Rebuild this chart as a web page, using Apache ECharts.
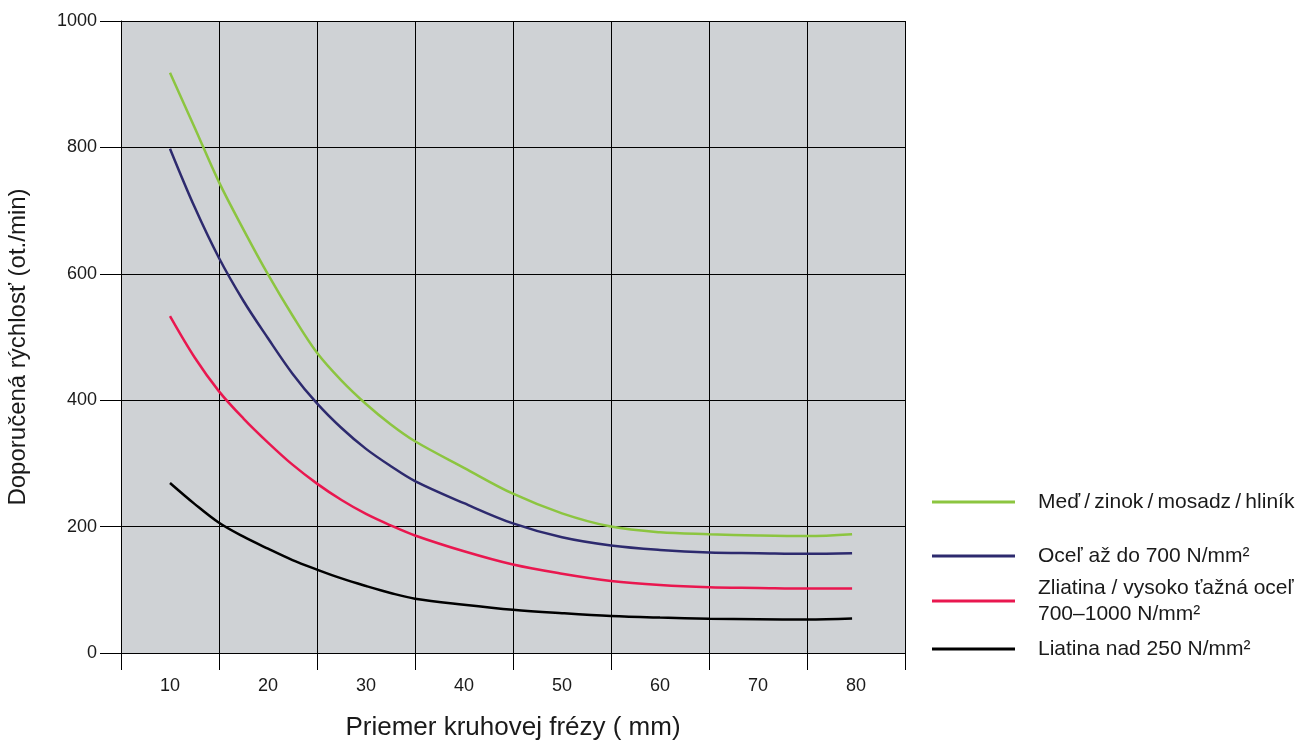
<!DOCTYPE html>
<html>
<head>
<meta charset="utf-8">
<script src="https://cdn.jsdelivr.net/npm/echarts@6/dist/echarts.min.js"></script>
<style>
  html, body { margin: 0; padding: 0; background: #fff; }
  #chart { width: 1312px; height: 740px; }
</style>
</head>
<body>
<div id="chart"></div>
<script>
// column labels on the x axis (mm)
const categories = ['10', '20', '30', '40', '50', '60', '70', '80'];
const diameters = [10, 12.5, 15, 17.5, 20, 22.5, 25, 27.5, 30, 32.5, 35, 40, 45, 50, 55, 60, 65, 70, 75, 79.6];

const copperValues = [918, 832, 745, 670, 599, 534, 475, 431, 394, 362, 335, 293, 252, 221, 200, 191, 188, 186, 185, 188];
const steelValues  = [798, 706, 625, 557, 498, 442, 395, 356, 323, 296, 272, 237, 205, 183, 170, 163, 159, 158, 157, 158];
const alloyValues  = [533, 468, 414, 371, 333, 298, 268, 242, 220, 202, 186, 161, 140, 125.5, 114, 107.5, 104, 103, 102, 102];
const castValues   = [269, 236, 206, 184, 165, 147, 132, 118, 106, 95, 86, 76.5, 68.5, 63, 58.5, 56, 54.3, 53.5, 53, 54.5];

const yTicks = [0, 200, 400, 600, 800, 1000];

const seriesNames = [
    'Meď\u2009/\u2009zinok\u2009/\u2009mosadz\u2009/\u2009hliník',
    'Oceľ až do 700 N/mm²',
    'Zliatina / vysoko ťažná oceľ\n700–1000 N/mm²',
    'Liatina nad 250 N/mm²'
];
const seriesColors = ['#8cc540', '#2d2a6e', '#e9174f', '#000000'];
const seriesValues = [copperValues, steelValues, alloyValues, castValues];

const font = "'Liberation Sans', Arial, sans-serif";

const chart = echarts.init(document.getElementById('chart'), null, { renderer: 'canvas' });

const pairs = (vals) => diameters.map((d, i) => [d, vals[i]]);

// one legend per entry, so each row can sit where it does in the picture
const legendTops = [489, 543, 575, 636];
const legends = seriesNames.map((name, i) => ({
    data: [name],
    orient: 'vertical',
    left: 932,
    top: legendTops[i],
    padding: 0,
    icon: 'rect',
    itemWidth: 83,
    itemHeight: 3,
    selectedMode: false,
    textStyle: {
        fontFamily: font,
        fontSize: 21,
        color: '#1a1a1a',
        lineHeight: 26,
        padding: [0, 0, 0, 18]
    }
}));

const option = {
    animation: false,
    backgroundColor: '#ffffff',
    legend: legends,
    grid: {
        left: 121,
        right: 407,
        top: 21,
        bottom: 87,
        outerBoundsMode: 'none',
        containLabel: false,
        show: true,
        backgroundColor: '#cfd2d5',
        borderWidth: 0
    },
    xAxis: [{
        type: 'category',
        data: categories,
        boundaryGap: true,
        position: 'bottom',
        axisLine: { show: true, lineStyle: { color: '#000', width: 1 } },
        axisTick: { show: true, length: 17, lineStyle: { color: '#000', width: 1 } },
        axisLabel: { fontFamily: font, fontSize: 18, color: '#1a1a1a', margin: 24 },
        splitLine: { show: true, lineStyle: { color: '#000', width: 1 } },
        name: 'Priemer kruhovej frézy ( mm)',
        nameLocation: 'middle',
        nameGap: 62,
        nameTextStyle: { fontFamily: font, fontSize: 26, color: '#1a1a1a' }
    }, {
        type: 'value',
        min: 5,
        max: 85,
        show: false
    }],
    yAxis: {
        type: 'value',
        min: 0,
        max: 1000,
        interval: 200,
        axisLine: { show: true, lineStyle: { color: '#000', width: 1 } },
        axisTick: { show: true, length: 21, lineStyle: { color: '#000', width: 1 } },
        axisLabel: {
            fontFamily: font, fontSize: 18, color: '#1a1a1a', margin: 24,
            formatter: (v) => yTicks.includes(v) ? String(v) : ''
        },
        splitLine: { show: true, lineStyle: { color: '#000', width: 1 } },
        name: 'Doporučená rýchlosť (ot./min)',
        nameLocation: 'middle',
        nameGap: 91,
        nameRotate: 90,
        nameTextStyle: { fontFamily: font, fontSize: 24, color: '#1a1a1a', padding: [0, 20, 0, 0] }
    },
    series: seriesNames.map((name, i) => ({
        name: name,
        type: 'line',
        xAxisIndex: 1,
        data: pairs(seriesValues[i]),
        smooth: 0.35,
        symbol: 'none',
        color: seriesColors[i],
        lineStyle: { width: 2.5, color: seriesColors[i] },
        z: 3
    }))
};

chart.setOption(option);
</script>
</body>
</html>
